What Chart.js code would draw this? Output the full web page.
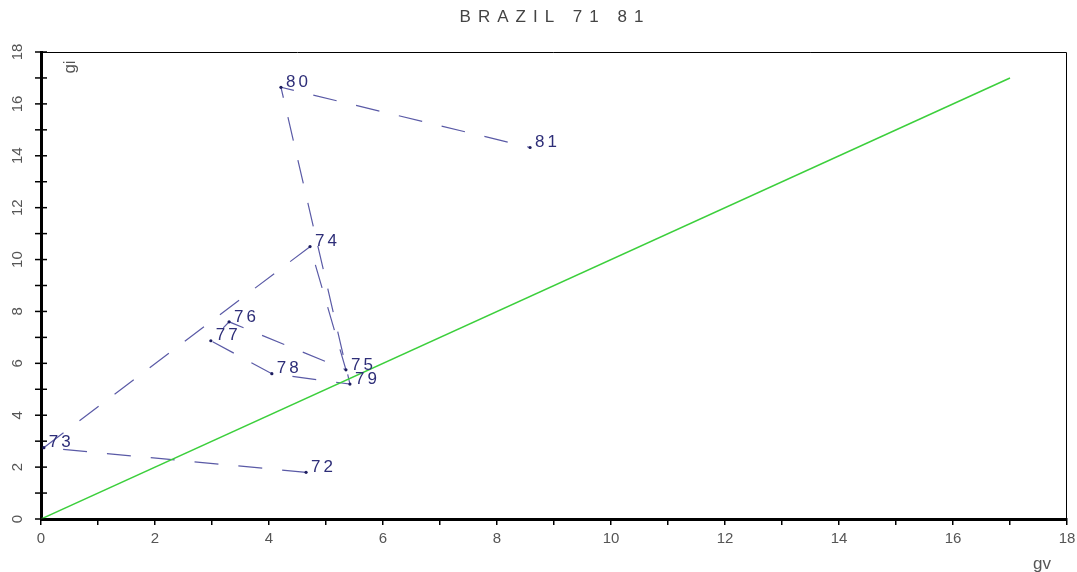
<!DOCTYPE html>
<html lang="en">
<head>
    <meta charset="UTF-8">
    <title>BRAZIL 71 81</title>
    <script src="https://cdn.jsdelivr.net/npm/chart.js"></script>
    <style>
        body {
            margin: 0;
            background: #ffffff;
        }
        #wrap {
            width: 1077px;
            height: 572px;
        }
    </style>
</head>
<body>
    <div id="wrap">
        <canvas id="plot" width="1077" height="572"></canvas>
    </div>

    <script>
        // values
        const years = ["72", "73", "74", "75", "76", "77", "78", "79", "80", "81"];
        const gv = [4.65, 0.05, 4.72, 5.35, 3.3, 2.98, 4.05, 5.42, 4.21, 8.58];
        const gi = [1.8, 2.75, 10.5, 5.75, 7.6, 6.87, 5.6, 5.2, 16.64, 14.32];
        const diagX = [0, 17];
        const diagY = [0, 17];
        const axisTicks = [0, 2, 4, 6, 8, 10, 12, 14, 16, 18];

        const pathPoints = gv.map((x, i) => ({ x: x, y: gi[i] }));
        const diagPoints = diagX.map((x, i) => ({ x: x, y: diagY[i] }));

        const labelColor = "#2e2e78";
        const tickFont = "'Liberation Sans'";

        // draws year labels, rotated y ticks, frame, title and axis names
        const extras = {
            id: "extras",
            afterDraw(chart) {
                const ctx = chart.ctx;
                const xs = chart.scales.x;
                const ys = chart.scales.y;
                const area = chart.chartArea;

                ctx.save();
                // top and right frame
                ctx.strokeStyle = "#000";
                ctx.lineWidth = 1;
                ctx.beginPath();
                ctx.moveTo(area.left, area.top + 0.5);
                ctx.lineTo(area.right - 0.5, area.top + 0.5);
                ctx.lineTo(area.right - 0.5, area.bottom);
                ctx.stroke();

                // y tick marks crossing the axis
                ctx.lineWidth = 1.5;
                for (let v = 0; v <= 18; v++) {
                    const py = ys.getPixelForValue(v);
                    ctx.beginPath();
                    ctx.moveTo(area.left - 6, py);
                    ctx.lineTo(area.left + 6, py);
                    ctx.stroke();
                }

                // rotated y labels
                ctx.fillStyle = "#555";
                ctx.font = "15px " + tickFont;
                ctx.textAlign = "center";
                ctx.textBaseline = "middle";
                axisTicks.forEach(v => {
                    const py = ys.getPixelForValue(v);
                    ctx.save();
                    ctx.translate(18, py);
                    ctx.rotate(-Math.PI / 2);
                    ctx.fillText(String(v), 0, 0);
                    ctx.restore();
                });

                // axis names
                ctx.font = "17px " + tickFont;
                ctx.save();
                ctx.translate(area.left + 29, area.top + 15);
                ctx.rotate(-Math.PI / 2);
                ctx.fillText("gi", 0, 0);
                ctx.restore();
                ctx.fillText("gv", 1042, 564);

                // title
                ctx.fillStyle = "#444";
                ctx.font = "17px " + tickFont;
                ctx.letterSpacing = "7px";
                ctx.fillText("BRAZIL 71 81", 555, 17);
                ctx.letterSpacing = "0px";

                // year labels next to each point
                ctx.fillStyle = labelColor;
                ctx.font = "17px " + tickFont;
                ctx.textAlign = "left";
                ctx.letterSpacing = "3px";
                years.forEach((yr, i) => {
                    const px = xs.getPixelForValue(gv[i]);
                    const py = ys.getPixelForValue(gi[i]);
                    ctx.fillText(yr, px + 5, py - 5);
                });
                ctx.letterSpacing = "0px";
                ctx.restore();
            }
        };

        new Chart(document.getElementById("plot"), {
            type: "scatter",
            data: {
                datasets: [
                    {
                        data: diagPoints,
                        showLine: true,
                        borderColor: "#3ccf3c",
                        borderWidth: 1.5,
                        pointRadius: 0
                    },
                    {
                        data: pathPoints,
                        showLine: true,
                        borderColor: "#5a5aa6",
                        borderWidth: 1.2,
                        borderDash: [24, 20],
                        pointRadius: 1.6,
                        pointBackgroundColor: "#1e1e60",
                        pointBorderWidth: 0
                    }
                ]
            },
            options: {
                responsive: false,
                animation: false,
                layout: {
                    padding: { top: 52, right: 10, left: 0, bottom: 0 }
                },
                plugins: {
                    legend: { display: false },
                    tooltip: { enabled: false }
                },
                scales: {
                    x: {
                        type: "linear",
                        min: 0,
                        max: 18,
                        afterFit: s => {
                            s.height = 53;
                            s.paddingLeft = 0;
                            s.paddingRight = 0;
                        },
                        ticks: {
                            stepSize: 1,
                            autoSkip: false,
                            maxRotation: 0,
                            padding: 5,
                            color: "#555",
                            font: { family: tickFont, size: 15 },
                            callback: v => (v % 2 === 0 ? v : "")
                        },
                        grid: {
                            drawOnChartArea: false,
                            tickLength: 6,
                            color: "#000",
                            lineWidth: 1.5
                        },
                        border: { color: "#000", width: 3 }
                    },
                    y: {
                        min: 0,
                        max: 18,
                        afterFit: s => { s.width = 41; },
                        ticks: { display: false, stepSize: 1 },
                        grid: { display: false },
                        border: { color: "#000", width: 3 }
                    }
                }
            },
            plugins: [extras]
        });
    </script>
</body>
</html>
